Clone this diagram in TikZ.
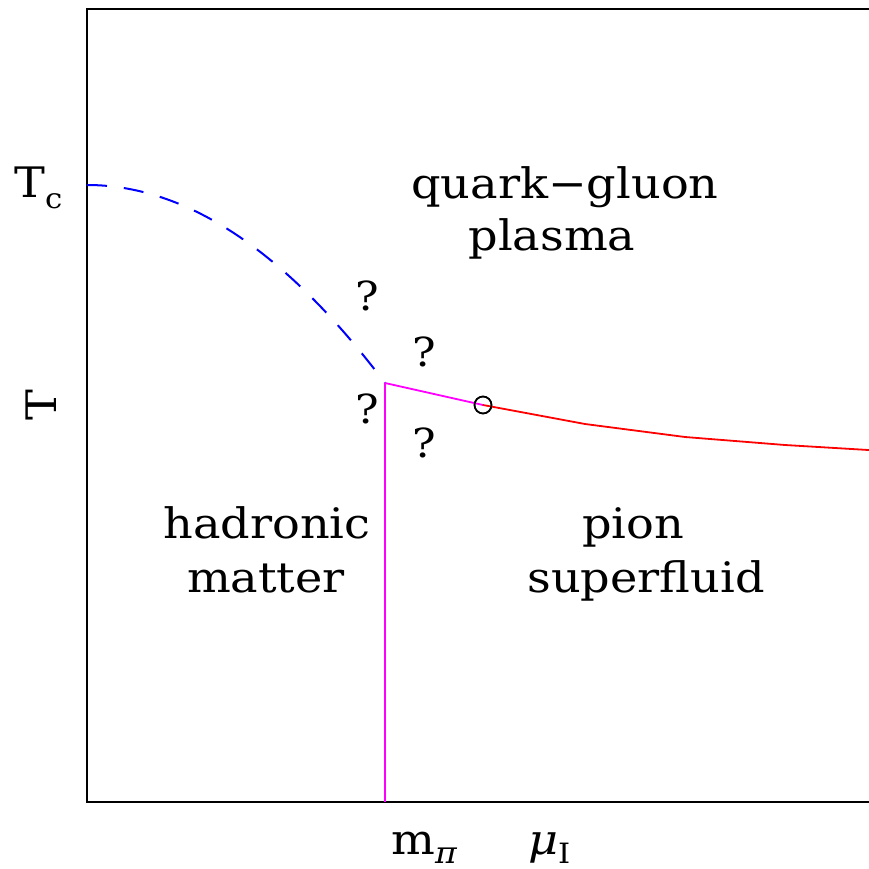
\documentclass[tikz,border=0pt]{standalone}
\usepackage{fontspec}
\setmainfont{DejaVu Serif}[FakeStretch=1.1]
\begin{document}
\begin{tikzpicture}[x=1pt,y=-1pt,
  lbl/.style={inner sep=0pt, anchor=base, font=\fontsize{42}{48}\selectfont},
  qm/.style={inner sep=0pt, anchor=base, font=\fontsize{40}{44}\selectfont},
  frame/.style={line width=2pt, black},
  tcline/.style={draw={rgb,255:red,0;green,0;blue,255}, line width=2pt, dash pattern=on 20pt off 17pt},
  pcline/.style={draw={rgb,255:red,255;green,0;blue,255}, line width=1.8pt},
  scline/.style={draw={rgb,255:red,255;green,0;blue,0}, line width=1.8pt},
  crit/.style={circle, draw, black, line width=1.6pt, minimum size=17pt, inner sep=0pt}]
\useasboundingbox (0,0) rectangle (868,869);
% frame
\coordinate (f1) at (885,9);
\coordinate (f2) at (87,9);
\coordinate (f3) at (87,802);
\coordinate (f4) at (885,802);
\draw[frame] (f1) -- (f2) -- (f3) -- (f4);
% points
\coordinate (tc) at (87,185);
\coordinate (tp) at (385,383);
\coordinate (bt) at (385,802);
\coordinate (r1) at (585,424);
\coordinate (r2) at (685,437);
\coordinate (r3) at (785,445);
\coordinate (r4) at (885,451);
% dashed chiral line
\draw[tcline] plot[domain=87:385, samples=80] (\x, {185+198*((\x-87)/298)^2});
% lines
\draw[pcline] (bt) -- (tp);
\node[crit] (cp) at (483,405) {};
\draw[pcline] (tp) -- (cp.center);
\draw[scline] (cp.center) -- (r1) -- (r2) -- (r3) -- (r4);
\node[crit] at (cp.center) {};
% question marks
\node[qm] (q1) at (367,310) {?};
\node[qm] (q2) at (424,366) {?};
\node[qm] (q3) at (367,423) {?};
\node[qm] (q4) at (424,457) {?};
% region labels
\node[lbl] (qgp1) at (565,198) {quark−gluon};
\node[lbl] (qgp2) at (552,250) {plasma};
\node[lbl] (had1) at (267,538) {hadronic};
\node[lbl] (had2) at (266,592) {matter};
\node[lbl] (pis1) at (633,538) {pion};
\node[lbl] (pis2) at (646,592) {superfluid};
% axis labels
\node[lbl, anchor=center, rotate=90] (ylab) at (41,405) {T};
\node[lbl, anchor=base west] (tcl) at (14,197) {T\raisebox{-11pt}{\fontsize{28}{30}\selectfont c}};
\node[lbl, anchor=base west] (mpi) at (391,854) {m\raisebox{-9pt}{\fontsize{30}{30}\selectfont\itshape π}};
\node[lbl, anchor=base west] (mui) at (528,854) {\itshape μ\upshape\raisebox{-9pt}{\fontsize{28}{30}\selectfont I}};
\end{tikzpicture}
\end{document}
